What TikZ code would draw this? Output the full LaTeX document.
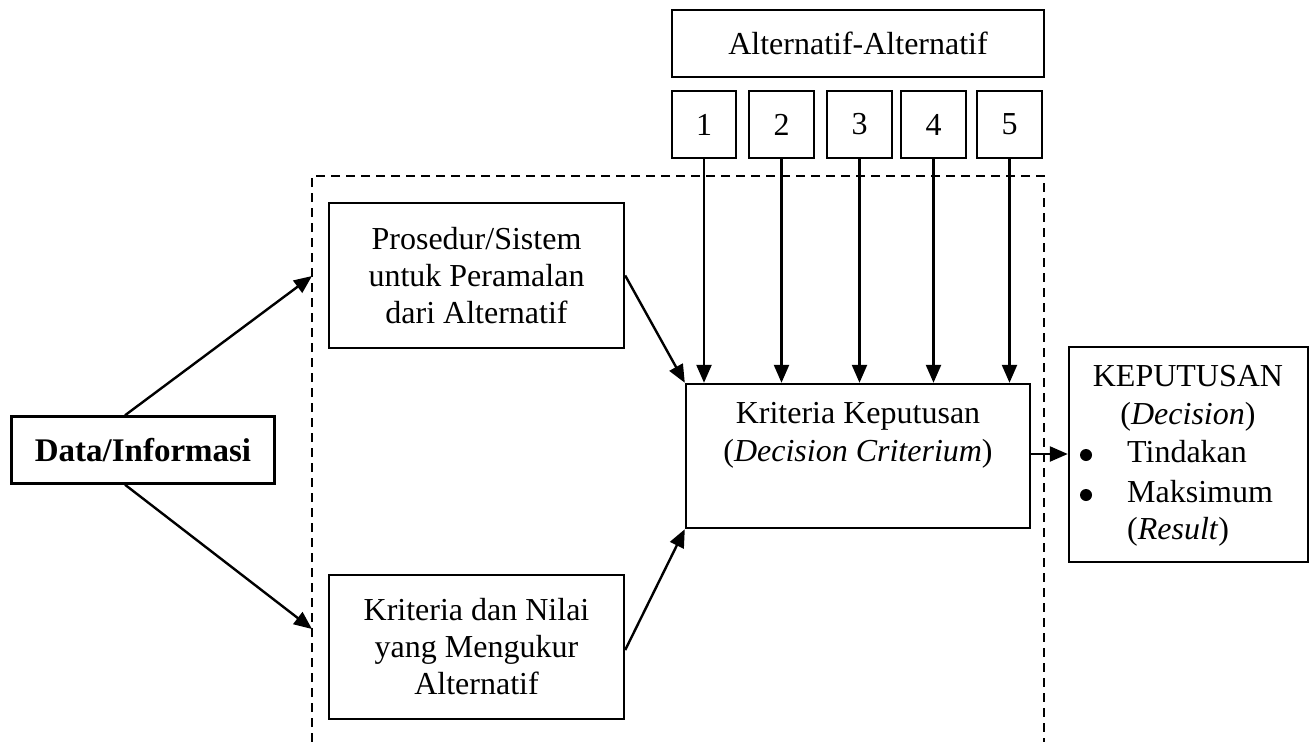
\documentclass[tikz,border=0pt]{standalone}
\usepackage{fontspec}
\setmainfont{Liberation Serif}
\usetikzlibrary{arrows.meta,calc}
\begin{document}
\begin{tikzpicture}[x=1pt,y=-1pt,
  box/.style={draw,line width=2.4pt,inner sep=0pt,align=center,
    font=\fontsize{32}{37}\selectfont},
  lbl/.style={inner sep=0pt,font=\fontsize{32}{37}\selectfont,
    text height=21pt,text depth=7pt},
  arr/.style={line width=2.4pt,-{Triangle[length=18pt,width=15pt]}},
  frame/.style={line width=2pt,dash pattern=on 9pt off 6pt},
  dot/.style={circle,fill,inner sep=0pt,minimum size=12pt}]
\useasboundingbox (0,0) rectangle (1310,742);

% dashed boundary of the decision process (open at the bottom)
\draw[frame] (312,742) -- (312,176) -- (1044,176) -- (1044,742);

% alternatives
\node[box,minimum width=372pt,minimum height=67pt] (alt) at (858,43.5) {Alternatif-Alternatif};
\node[box,minimum width=64pt,minimum height=67pt] (n1) at (704,124.5) {1};
\node[box,minimum width=65pt,minimum height=67pt] (n2) at (781.5,124.5) {2};
\node[box,minimum width=65pt,minimum height=67pt] (n3) at (859.5,124.5) {3};
\node[box,minimum width=65pt,minimum height=67pt] (n4) at (933.5,124.5) {4};
\node[box,minimum width=65pt,minimum height=67pt] (n5) at (1009.5,124.5) {5};

% inputs
\node[box,minimum width=263pt,minimum height=67pt,font=\fontsize{33}{37}\selectfont] (data) at (143,450) {\textbf{Data/Informasi}};
\node[box,minimum width=295pt,minimum height=145pt] (proc) at (476.5,275.5)
  {Prosedur/Sistem\\untuk Peramalan\\dari Alternatif};
\node[box,minimum width=295pt,minimum height=144pt] (krit) at (476.5,647)
  {Kriteria dan Nilai\\yang Mengukur\\Alternatif};

% decision criterion
\node[box,minimum width=344pt,minimum height=144pt] (kk) at (858,456) {};
\node[inner sep=0pt,align=center,font=\fontsize{32}{38}\selectfont] (kkt) at (858,435)
  {Kriteria Keputusan\\(\textit{Decision Criterium})};

% decision
\node[box,minimum width=239pt,minimum height=215pt] (kep) at (1188.5,454.5) {};
\node[lbl] (kep1) at (1188,379) {KEPUTUSAN};
\node[lbl] (kep2) at (1188,417) {(\textit{Decision})};
\node[dot] (b1) at (1086,455) {};
\node[dot] (b2) at (1086,495) {};
\node[lbl,anchor=west] (kep3) at (1127,455) {Tindakan};
\node[lbl,anchor=west] (kep4) at (1127,495) {Maksimum};
\node[lbl,anchor=west] (kep5) at (1127,532) {(\textit{Result})};

% entry points on the dashed boundary
\coordinate (inA) at (312,276);
\coordinate (inB) at (312,629);

% connectors
\draw[arr] ($(data.north)+(-18,0)$) -- (inA);
\draw[arr] ($(data.south)+(-18,0)$) -- (inB);
\draw[arr] (proc.east) -- (kk.north west);
\draw[arr] ($(krit.east)+(0,3)$) -- (kk.south west);
\foreach \i in {1,...,5}
  \draw[arr] (n\i.south) -- (n\i.south |- kk.north);
\draw[arr] ($(kk.east)+(0,-2)$) -- ($(kk.east -| kep.west)+(0,-2)$);
\end{tikzpicture}
\end{document}
